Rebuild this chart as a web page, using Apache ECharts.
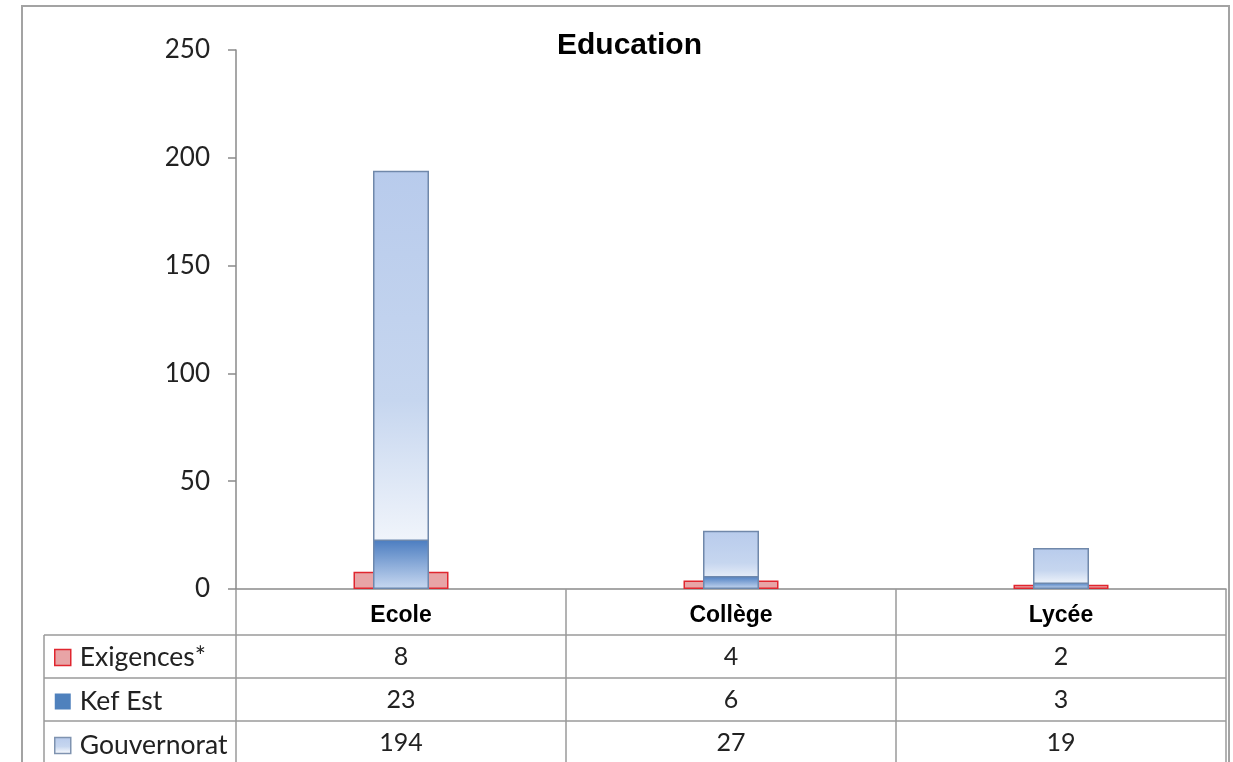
<!DOCTYPE html>
<html>
<head>
<meta charset="utf-8">
<script src="https://cdn.jsdelivr.net/npm/echarts@6/dist/echarts.min.js"></script>
<style>
html,body{margin:0;padding:0;background:#fff;}
#chart{width:1233px;height:762px;}
</style>
</head>
<body>
<div id="chart"></div>
<script>
const title = 'Education';
const categories = ['Ecole', 'Collège', 'Lycée'];
const seriesNames = ['Exigences*', 'Kef Est', 'Gouvernorat'];
const exigences = [8, 4, 2];
const kefEst = [23, 6, 3];
const gouvernorat = [194, 27, 19];
const yTicks = [0, 50, 100, 150, 200, 250];

const GL = 236, GR = 1226, GT = 50, GB = 589;
const W = 1233, H = 762;
const ROW_H = 43;
const HEADER_BOTTOM = 635;
const lineColor = '#9a9a9a';
const numFont = 'Lato';

const redFill = '#e8a4a6', redBorder = '#e0262f';
const kefGrad = new echarts.graphic.LinearGradient(0, 0, 0, 1, [
  {offset: 0, color: '#4a7cc0'}, {offset: 1, color: '#c9d9f1'}]);
const gouvGrad = new echarts.graphic.LinearGradient(0, 0, 0, 1, [
  {offset: 0, color: '#b8cbec'}, {offset: 0.55, color: '#c6d6ef'}, {offset: 1, color: '#ffffff'}]);

const chart = echarts.init(document.getElementById('chart'), null, {renderer: 'canvas'});

function rowAxis(idx, rowData) {
  return {
    type: 'category', data: categories, gridIndex: 0, position: 'bottom',
    axisLine: {show: false}, axisTick: {show: false}, splitLine: {show: false},
    axisLabel: {
      interval: 0, margin: (HEADER_BOTTOM - GB) + ROW_H * idx + ROW_H / 2,
      verticalAlign: 'middle', fontFamily: numFont, fontSize: 25, color: '#222',
      formatter: (v, i) => String(rowData[i])
    }
  };
}

const hLines = [];
for (let r = 0; r < 3; r++) {
  const y = HEADER_BOTTOM + ROW_H * r;
  hLines.push({type: 'line', shape: {x1: 44, y1: y, x2: GR, y2: y},
    style: {stroke: lineColor, lineWidth: 1.5}, silent: true});
}

chart.setOption({
  animation: false,
  title: {text: title, left: 552, top: 26,
    textStyle: {fontFamily: 'Liberation Sans', fontWeight: 'bold', fontSize: 30, color: '#000'}},
  grid: {left: GL, right: W - GR, top: GT, bottom: H - GB, containLabel: false},
  legend: {
    orient: 'vertical', left: 54, top: HEADER_BOTTOM + 9, height: 200, itemGap: ROW_H - 26,
    itemWidth: 16, itemHeight: 16, selectedMode: false, icon: 'rect', padding: 0,
    textStyle: {fontFamily: numFont, fontSize: 26.5, color: '#222', lineHeight: 26, padding: [0, 0, 0, 4]},
    data: [
      {name: seriesNames[0], itemStyle: {color: redFill, borderColor: redBorder, borderWidth: 1.5}},
      {name: seriesNames[1], itemStyle: {color: '#4f81bd', borderColor: '#4f81bd', borderWidth: 0}},
      {name: seriesNames[2], itemStyle: {color: gouvGrad, borderColor: '#7f93b0', borderWidth: 1.5}}
    ]
  },
  xAxis: [
    {
      type: 'category', data: categories, position: 'bottom',
      axisLine: {show: true, lineStyle: {color: '#8a8a8a', width: 1.5}},
      axisTick: {show: true, length: H - GB + 10, lineStyle: {color: lineColor, width: 1.5}},
      axisLabel: {interval: 0, margin: (HEADER_BOTTOM - GB) / 2 + 4, verticalAlign: 'middle',
        fontFamily: 'Liberation Sans', fontWeight: 'bold', fontSize: 23, color: '#000'},
      splitLine: {show: false}
    },
    {type: 'category', data: categories, show: false},
    {type: 'category', data: categories, show: false},
    rowAxis(0, exigences),
    rowAxis(1, kefEst),
    rowAxis(2, gouvernorat)
  ],
  yAxis: {
    type: 'value', min: 0, max: 250, interval: 50,
    axisLine: {show: true, lineStyle: {color: '#8a8a8a', width: 1.5}},
    axisTick: {show: true, length: 8, lineStyle: {color: '#8a8a8a', width: 1.5}},
    axisLabel: {margin: 26, fontFamily: numFont, fontSize: 26, color: '#222',
      formatter: v => yTicks.includes(v) ? String(v) : ''},
    splitLine: {show: false}
  },
  series: [
    {name: seriesNames[0], type: 'bar', xAxisIndex: 0, data: exigences, barWidth: 95,
      itemStyle: {color: redFill, borderColor: redBorder, borderWidth: 1.5}, z: 2},
    {name: seriesNames[2], type: 'bar', xAxisIndex: 1, data: gouvernorat, barWidth: 56,
      itemStyle: {color: gouvGrad, borderColor: '#7088aa', borderWidth: 1.5}, z: 3},
    {name: seriesNames[1], type: 'bar', xAxisIndex: 2, data: kefEst, barWidth: 56,
      itemStyle: {color: kefGrad, borderColor: '#6d88ad', borderWidth: 1.5}, z: 4}
  ],
  graphic: [
    {type: 'rect', shape: {x: 22, y: 6, width: 1207, height: 800},
      style: {fill: 'none', stroke: '#a3a3a3', lineWidth: 2}, silent: true, z: -1},
    {type: 'line', shape: {x1: 44, y1: HEADER_BOTTOM, x2: 44, y2: H + 10},
      style: {stroke: lineColor, lineWidth: 1.5}, silent: true}
  ].concat(hLines)
});
</script>
</body>
</html>
